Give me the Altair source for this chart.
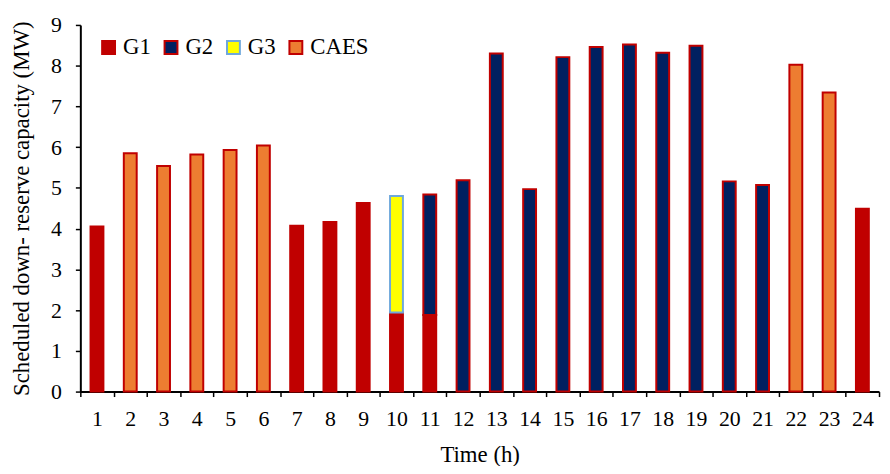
import altair as alt
import pandas as pd

hours = list(range(1, 25))
series = ["G1", "G2", "G3", "CAES"]
g1 = [4.05, 0, 0, 0, 0, 0, 4.07, 4.16, 4.63, 1.94, 1.88, 0,
      0, 0, 0, 0, 0, 0, 0, 0, 0, 0, 0, 4.49]
g2 = [0, 0, 0, 0, 0, 0, 0, 0, 0, 0, 2.96, 5.19,
      8.30, 4.97, 8.21, 8.46, 8.52, 8.32, 8.49, 5.16, 5.07, 0, 0, 0]
g3 = [0, 0, 0, 0, 0, 0, 0, 0, 0, 2.86, 0, 0,
      0, 0, 0, 0, 0, 0, 0, 0, 0, 0, 0, 0]
caes = [0, 5.85, 5.54, 5.82, 5.93, 6.04, 0, 0, 0, 0, 0, 0,
        0, 0, 0, 0, 0, 0, 0, 0, 0, 8.02, 7.34, 0]

fills = ["#C00000", "#002060", "#FFFF00", "#ED7D31"]
strokes = ["#C00000", "#C00000", "#6FA8DC", "#C00000"]

rows = []
for name, vals, idx in zip(series, [g1, g2, g3, caes], range(4)):
    for h, v in zip(hours, vals):
        if v > 0:
            rows.append({"hour": h, "series": name, "value": v, "idx": idx})
df = pd.DataFrame(rows)

FONT = "Liberation Serif"

leg = alt.Legend(
    orient="none", legendX=17, legendY=11, direction="horizontal", title=None,
    symbolType="square", symbolSize=169, symbolStrokeWidth=2,
    labelFont=FONT, labelFontSize=23, labelColor="black",
    columnPadding=8, labelOffset=3, padding=0,
)

chart = alt.Chart(df).mark_bar(size=13, strokeWidth=2).encode(
    x=alt.X("hour:O", scale=alt.Scale(paddingInner=0, paddingOuter=0),
            axis=alt.Axis(title="Time (h)", labelAngle=0, tickBand="extent",
                          labelFont=FONT, labelFontSize=22, labelColor="black",
                          titleFont=FONT, titleFontSize=23, titleFontWeight="normal",
                          titleColor="black", titlePadding=15,
                          domainColor="black", domainWidth=2,
                          tickColor="black", tickWidth=1.5, tickSize=5,
                          labelPadding=12)),
    y=alt.Y("value:Q", stack="zero", scale=alt.Scale(domain=[0, 9], nice=False),
            axis=alt.Axis(title="Scheduled down- reserve capacity (MW)",
                          values=list(range(10)), grid=False,
                          labelFont=FONT, labelFontSize=22, labelColor="black",
                          titleFont=FONT, titleFontSize=23, titleFontWeight="normal",
                          titleColor="black", titlePadding=17,
                          domainColor="black", domainWidth=2,
                          tickColor="black", tickWidth=1.5, tickSize=5,
                          labelPadding=14)),
    color=alt.Color("series:N", scale=alt.Scale(domain=series, range=fills), legend=leg),
    stroke=alt.Stroke("series:N", scale=alt.Scale(domain=series, range=strokes), legend=leg),
    order=alt.Order("idx:Q"),
).properties(
    width=806, height=370,
    autosize=alt.AutoSizeParams(type="none"),
    padding={"left": 73, "top": 15, "right": 3, "bottom": 73},
).configure_view(stroke="transparent")

chart.save("out.html", embed_options={"renderer": "svg", "actions": False})
